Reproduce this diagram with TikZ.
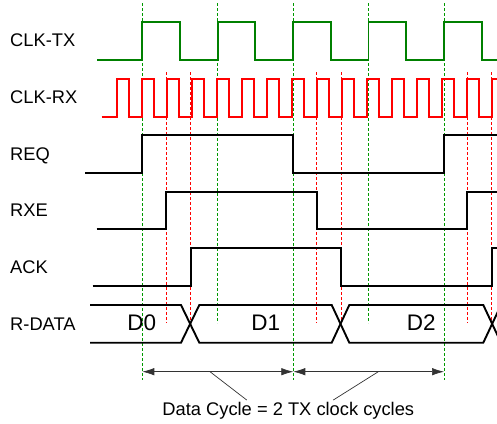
\documentclass[tikz,border=0pt]{standalone}
\usepackage{fontspec}
\setmainfont{Liberation Sans}
\usetikzlibrary{arrows.meta}

\begin{document}
\begin{tikzpicture}[
    x=1pt, y=-1pt,
    tx/.style={draw=green!50!black, line width=1.9pt},
    rx/.style={draw=red, line width=1.9pt},
    sig/.style={draw=black, line width=1.9pt},
    gmark/.style={draw=green!60!black, line width=0.6pt, dash pattern=on 3pt off 2pt},
    rmark/.style={draw=red, line width=0.6pt, dash pattern=on 3pt off 2pt},
    lbl/.style={anchor=base west, inner sep=0pt, font=\fontsize{18.3}{21}\selectfont},
    dlbl/.style={anchor=base, inner sep=0pt, font=\fontsize{22.5}{26}\selectfont},
    dim/.style={{Latex[length=12pt,width=7.5pt]}-{Latex[length=12pt,width=7.5pt]}, draw=black!80, line width=0.7pt},
    lead/.style={draw=black!80, line width=0.7pt}
]
    \useasboundingbox (0,0) rectangle (497,423);
    \clip (0,0) rectangle (497,423);

    \foreach \k/\e in {0/380,1/323,2/380,3/323,4/380}
        \draw [gmark] ({142.3+75.4*\k},3) -- ({142.3+75.4*\k},\e);
    \foreach \x in {166,190.7,316.7,341.3,467,491.7}
        \draw [rmark] (\x,72) -- (\x,323);

    \node [lbl] (l-tx) at (10,46.7) {CLK-TX};
    \node [lbl] (l-rx) at (10,103.3) {CLK-RX};
    \node [lbl] (l-req) at (10,160) {REQ};
    \node [lbl] (l-rxe) at (10,216.7) {RXE};
    \node [lbl] (l-ack) at (10,273.3) {ACK};
    \node [lbl] (l-data) at (10,330.7) {R-DATA};

    \draw [tx] (97,60) foreach \k in {0,...,4} { -- ({142.3+75.4*\k},60) -- ++(0,-38) -- ++(37.7,0) -- ++(0,38) } -- (500,60);
    \draw [rx] (101.7,116.7) foreach \k in {0,...,14} { -- ({116.7+25*\k},116.7) -- ++(0,-37.4) -- ++(12.5,0) -- ++(0,37.4) } -- (491.7,116.7) -- (491.7,79.3) -- (500,79.3);

    \draw [sig] (85,172.7) -- (142.3,172.7) -- (142.3,135) -- (293.3,135) -- (293.3,172.7) -- (444,172.7) -- (444,135) -- (500,135);
    \draw [sig] (96.7,229) -- (166,229) -- (166,191.7) -- (316.7,191.7) -- (316.7,229) -- (467,229) -- (467,191.7) -- (500,191.7);
    \draw [sig] (92.7,286) -- (190.7,286) -- (190.7,248.3) -- (341.3,248.3) -- (341.3,286) -- (491.7,286) -- (491.7,248.3) -- (500,248.3);

    \draw [sig] (90,305) -- (181,305) -- (199.3,342.7) -- (331.7,342.7) -- (349.3,305) -- (483.3,305) -- (501,342.7);
    \draw [sig] (90,342.7) -- (181,342.7) -- (199.3,305) -- (331.7,305) -- (349.3,342.7) -- (483.3,342.7) -- (501,305);
    \node [dlbl] (d0) at (141.7,330) {D0};
    \node [dlbl] (d1) at (265.8,330) {D1};
    \node [dlbl] (d2) at (421.3,330) {D2};

    \coordinate (c0) at (142.3,371.7);
    \coordinate (c1) at (293.3,371.7);
    \coordinate (c2) at (444,371.7);
    \draw [dim] (c0) -- (c1);
    \draw [dim] (c1) -- (c2);

    \node [anchor=base, inner sep=0pt, font=\fontsize{18.3}{21}\selectfont] (note) at (288.3,415) {Data Cycle = 2 TX clock cycles};
    \coordinate (p1) at (210,371.7);
    \coordinate (q1) at (246.7,400);
    \coordinate (p2) at (378.3,371.7);
    \coordinate (q2) at (333.3,400);
    \draw [lead] (p1) -- (q1);
    \draw [lead] (p2) -- (q2);
\end{tikzpicture}
\end{document}
